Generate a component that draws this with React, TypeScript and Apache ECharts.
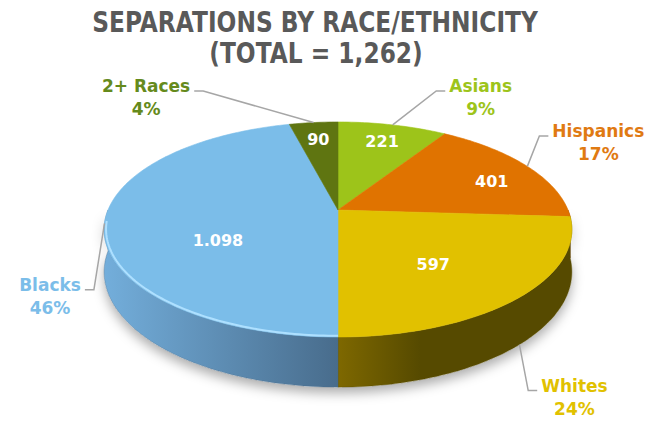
import React, { useEffect, useRef } from 'react';
import * as echarts from 'echarts';

// ---- data ----
const categories = ['Asians', 'Hispanics', 'Whites', 'Blacks', '2+ Races'];
const counts = [221, 401, 597, 1098, 90];
const countLabels = ['221', '401', '597', '1.098', '90'];
const sharePercent = [9, 17, 24, 46, 4];
const titleLines = ['SEPARATIONS BY RACE/ETHNICITY', '(TOTAL = 1,262)'];

// ---- styles ----
const topColors = ['#9dc41a', '#e07300', '#e1c100', '#7bbde9', '#5f7511'];
const labelColors = ['#9dc41a', '#e07a12', '#e1c100', '#7bbde9', '#658a1c'];
const sideLeft = ['#5d7510', '#8a4500', '#7e6800', '#73aedb', '#3e4c0a'];
const sideRight = ['#4f640c', '#6e3800', '#564a00', '#486c8c', '#3e4c0a'];
const sideMid = [1, 1, 0.35, 1, 1];
const rimColors = ['', '', '', '#aee0ff', ''];
// label layout
const valueFrac = [0.78, 0.8, 0.56, 0.52, 0.78];
const valueDepth = [0, 0.17, 0.2, 0.58, 0];
const anchorDepth = [0, 0, 1, 0, 0];
const labelOffset: [number, number][] = [
  [88, -33],
  [71, -29.5],
  [55, 47],
  [-54.5, 67.5],
  [-167.5, -30.5],
];
const labelSide = [1, 1, 1, -1, -1];

// ---- geometry (3D perspective pie) ----
const CX = 338;
const CY = 210;
const A = 230;
const B = 104;
const K = 0.1814;
const D = 41;

const FONT_FAMILY = '"DejaVu Sans", sans-serif';
const LABEL_FONT = `bold 17px ${FONT_FAMILY}`;
const VALUE_FONT = `bold 16px ${FONT_FAMILY}`;
const TITLE_FONT = `bold 29px ${FONT_FAMILY}`;

function proj(deg: number, f: number, h: number): number[] {
  const t = (deg * Math.PI) / 180;
  const X = f * Math.sin(t);
  const Z = f * Math.cos(t);
  const w = 1 + K * Z;
  return [CX + (A * X) / w, CY - (B * Z) / w + (h * D) / w];
}

function arc(from: number, to: number, f: number, h: number): number[][] {
  const n = Math.max(2, Math.ceil(Math.abs(to - from) / 1));
  const pts: number[][] = [];
  for (let j = 0; j <= n; j++) {
    pts.push(proj(from + ((to - from) * j) / n, f, h));
  }
  return pts;
}

let measureCtx: CanvasRenderingContext2D | null = null;
function measure(text: string, font: string): number {
  if (!measureCtx) measureCtx = document.createElement('canvas').getContext('2d');
  if (!measureCtx) return text.length * 10;
  measureCtx.font = font;
  return measureCtx.measureText(text).width;
}

const total = sharePercent.reduce((a, b) => a + b, 0);
const starts = sharePercent.map((_, i) => sharePercent.slice(0, i).reduce((a, b) => a + b, 0));

function renderItem(params: any, api: any) {
  const i = params.dataIndex;
  const v = api.value(0) as number;
  const a0 = (starts[i] / total) * 360;
  const a1 = a0 + (v / total) * 360;
  const children: any[] = [];

  if (i === 0) {
    children.push({
      type: 'polygon',
      z2: 0,
      shape: { points: arc(90, 270, 1, 0).concat(arc(270, 90, 1, 1)) },
      style: {
        fill: '#ffffff',
        shadowBlur: 12,
        shadowColor: 'rgba(0,0,0,0.32)',
        shadowOffsetY: 6,
      },
    });
  }

  // side face
  const s0 = Math.max(a0, 90);
  const s1 = Math.min(a1, 270);
  if (s1 > s0) {
    const pts = arc(s0, s1, 1, 0).concat(arc(s1, s0, 1, 1));
    const xs = pts.map((p) => p[0]);
    const x0 = Math.min(...xs);
    const x1 = Math.max(...xs);
    children.push({
      type: 'polygon',
      z2: 1,
      shape: { points: pts },
      style: {
        fill: new echarts.graphic.LinearGradient(
          x0,
          0,
          x1,
          0,
          [
            { offset: 0, color: sideLeft[i] },
            { offset: sideMid[i], color: sideRight[i] },
            { offset: 1, color: sideRight[i] },
          ],
          true
        ),
        stroke: sideRight[i],
        lineWidth: 0.4,
      },
    });
  }

  // top face
  children.push({
    type: 'polygon',
    z2: 5,
    shape: { points: [proj(0, 0, 0)].concat(arc(a0, a1, 1, 0)) },
    style: { fill: topColors[i], stroke: topColors[i], lineWidth: 0.6 },
  });

  // rim highlight
  const r0 = Math.max(a0, 96);
  const r1 = Math.min(a1, 264);
  if (rimColors[i] && r1 > r0) {
    children.push({
      type: 'polyline',
      z2: 6,
      shape: { points: arc(r0, r1, 0.992, 0) },
      style: { stroke: rimColors[i], lineWidth: 2, fill: null },
    });
  }

  // value label
  const mid = (a0 + a1) / 2;
  const vp = proj(mid, valueFrac[i], valueDepth[i]);
  children.push({
    type: 'text',
    z2: 10,
    x: vp[0],
    y: vp[1],
    style: {
      text: countLabels[i],
      fill: '#ffffff',
      font: VALUE_FONT,
      align: 'center',
      verticalAlign: 'middle',
    },
  });

  // outside label + leader line
  const pct = `${v}%`;
  const an = proj(mid, 1, anchorDepth[i]);
  const tx = an[0] + labelOffset[i][0];
  const base = an[1] + labelOffset[i][1];
  const tw = Math.max(measure(categories[i], LABEL_FONT), measure(pct, LABEL_FONT));
  const side = labelSide[i];
  const endX = side > 0 ? tx - tw / 2 - 4 : tx + tw / 2 + 4;
  const elbowX = endX - side * 9;
  const ly = base - 1;
  children.push({
    type: 'polyline',
    z2: 9,
    shape: { points: [an, [elbowX, ly], [endX, ly]] },
    style: { stroke: '#a6a6a6', lineWidth: 1.5, fill: null },
  });
  children.push({
    type: 'text',
    z2: 10,
    x: tx,
    y: base - 6,
    style: {
      text: categories[i],
      fill: labelColors[i],
      font: LABEL_FONT,
      align: 'center',
      verticalAlign: 'middle',
    },
  });
  children.push({
    type: 'text',
    z2: 10,
    x: tx,
    y: base + 17,
    style: {
      text: pct,
      fill: labelColors[i],
      font: LABEL_FONT,
      align: 'center',
      verticalAlign: 'middle',
    },
  });

  return { type: 'group', children };
}

export default function App() {
  const ref = useRef<HTMLDivElement>(null);
  useEffect(() => {
    if (!ref.current) return;
    const chart = echarts.init(ref.current, undefined, { renderer: 'svg' });
    const titleScale = 446 / measure(titleLines[0], TITLE_FONT);
    chart.setOption({
      animation: false,
      backgroundColor: '#ffffff',
      graphic: {
        elements: [
          {
            type: 'text',
            x: 315,
            y: 22,
            scaleX: titleScale,
            style: {
              text: titleLines[0],
              fill: '#595959',
              font: TITLE_FONT,
              align: 'center',
              verticalAlign: 'middle',
            },
          },
          {
            type: 'text',
            x: 316,
            y: 53,
            scaleX: titleScale,
            style: {
              text: titleLines[1],
              fill: '#595959',
              font: TITLE_FONT,
              align: 'center',
              verticalAlign: 'middle',
            },
          },
        ],
      },
      series: [
        {
          type: 'custom',
          coordinateSystem: 'none',
          silent: true,
          data: sharePercent.map((v, i) => ({ name: categories[i], value: v, count: counts[i] })),
          renderItem,
        },
      ],
    });
    return () => chart.dispose();
  }, []);
  return (
    <div
      ref={ref}
      style={{ position: 'absolute', left: 0, top: 0, width: 651, height: 421 }}
    />
  );
}
